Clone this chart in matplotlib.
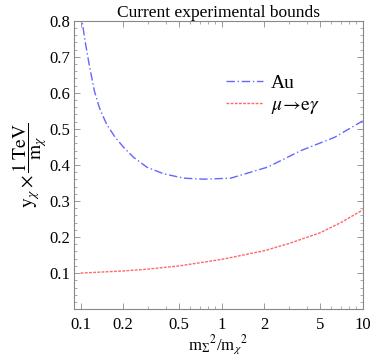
import numpy as np
import matplotlib
matplotlib.use("Agg")
import matplotlib.pyplot as plt
from matplotlib.ticker import FixedLocator, NullFormatter, MultipleLocator

plt.rcParams['font.family'] = ['Liberation Serif', 'DejaVu Serif']
plt.rcParams['mathtext.fontset'] = 'stix'

# values
au_x = [0.1, 0.1073, 0.1152, 0.125, 0.1334, 0.1374, 0.153, 0.1756, 0.2014, 0.237, 0.295,
        0.388, 0.538, 0.748, 1.158, 2.12, 3.66, 6.31, 10]
au_y = [0.824, 0.744, 0.675, 0.605, 0.568, 0.553, 0.512, 0.4765, 0.449, 0.421, 0.3936,
        0.3754, 0.3633, 0.3605, 0.3633, 0.394, 0.44, 0.4765, 0.522]
meg_x = [0.1, 0.2, 0.3, 0.5, 1, 2, 3, 5, 7, 10]
meg_y = [0.1, 0.106, 0.111, 0.120, 0.138, 0.162, 0.182, 0.212, 0.240, 0.275]
xticks = [0.1, 0.2, 0.5, 1, 2, 5, 10]
xticklabels = ['0.1', '0.2', '0.5', '1', '2', '5', '10']
yticks = [0.1, 0.2, 0.3, 0.4, 0.5, 0.6, 0.7, 0.8]

fig = plt.figure(figsize=(3.71, 3.57), dpi=100)
ax = fig.add_axes([0.1995, 0.134, 0.778, 0.808])

ax.plot(au_x, au_y, color=(0.4, 0.4, 1.0), lw=1.0, ls=(0, (6, 2, 1, 2)), label='Au')
ax.plot(meg_x, meg_y, color=(1.0, 0.4, 0.4), lw=1.0, ls=(0, (2, 1)),
        label=r'$\mu\!\rightarrow\!\mathrm{e}\gamma$')

ax.set_xscale('log')
ax.set_xlim(0.0896, 10)
ax.set_ylim(0, 0.8)
ax.set_xticks(xticks)
ax.set_xticklabels(xticklabels)
ax.xaxis.set_minor_locator(FixedLocator([k * 10.0 ** e for e in (-1, 0) for k in range(2, 10)]))
ax.xaxis.set_minor_formatter(NullFormatter())
ax.set_yticks(yticks)
ax.set_yticklabels(['%.1f' % v for v in yticks])
ax.yaxis.set_minor_locator(MultipleLocator(0.02))

for s in ax.spines.values():
    s.set_color('#888888')
    s.set_linewidth(0.8)
ax.tick_params(which='both', direction='in', top=True, right=True, color='#888888', labelsize=12)
ax.tick_params(axis='x', pad=6)
ax.tick_params(axis='y', pad=3)
ax.tick_params(which='major', length=4, width=0.6)
ax.tick_params(which='minor', length=2, width=0.5)

ax.set_title('Current experimental bounds', fontsize=12.5, pad=3)
ax.set_xlabel(r'm$_\Sigma$$^2$/m$_\chi$$^2$', fontsize=12, labelpad=0)
ax.set_ylabel(r'$\mathrm{y}_\chi\times\dfrac{1\;\mathrm{TeV}}{\mathrm{m}_\chi}$', fontsize=14, labelpad=0)

ax.legend(loc='upper left', bbox_to_anchor=(0.5, 0.84), frameon=False, fontsize=14,
          handlelength=1.9, handletextpad=0.4, labelspacing=0.2, borderaxespad=0)

fig.savefig('out.png', dpi=100)
